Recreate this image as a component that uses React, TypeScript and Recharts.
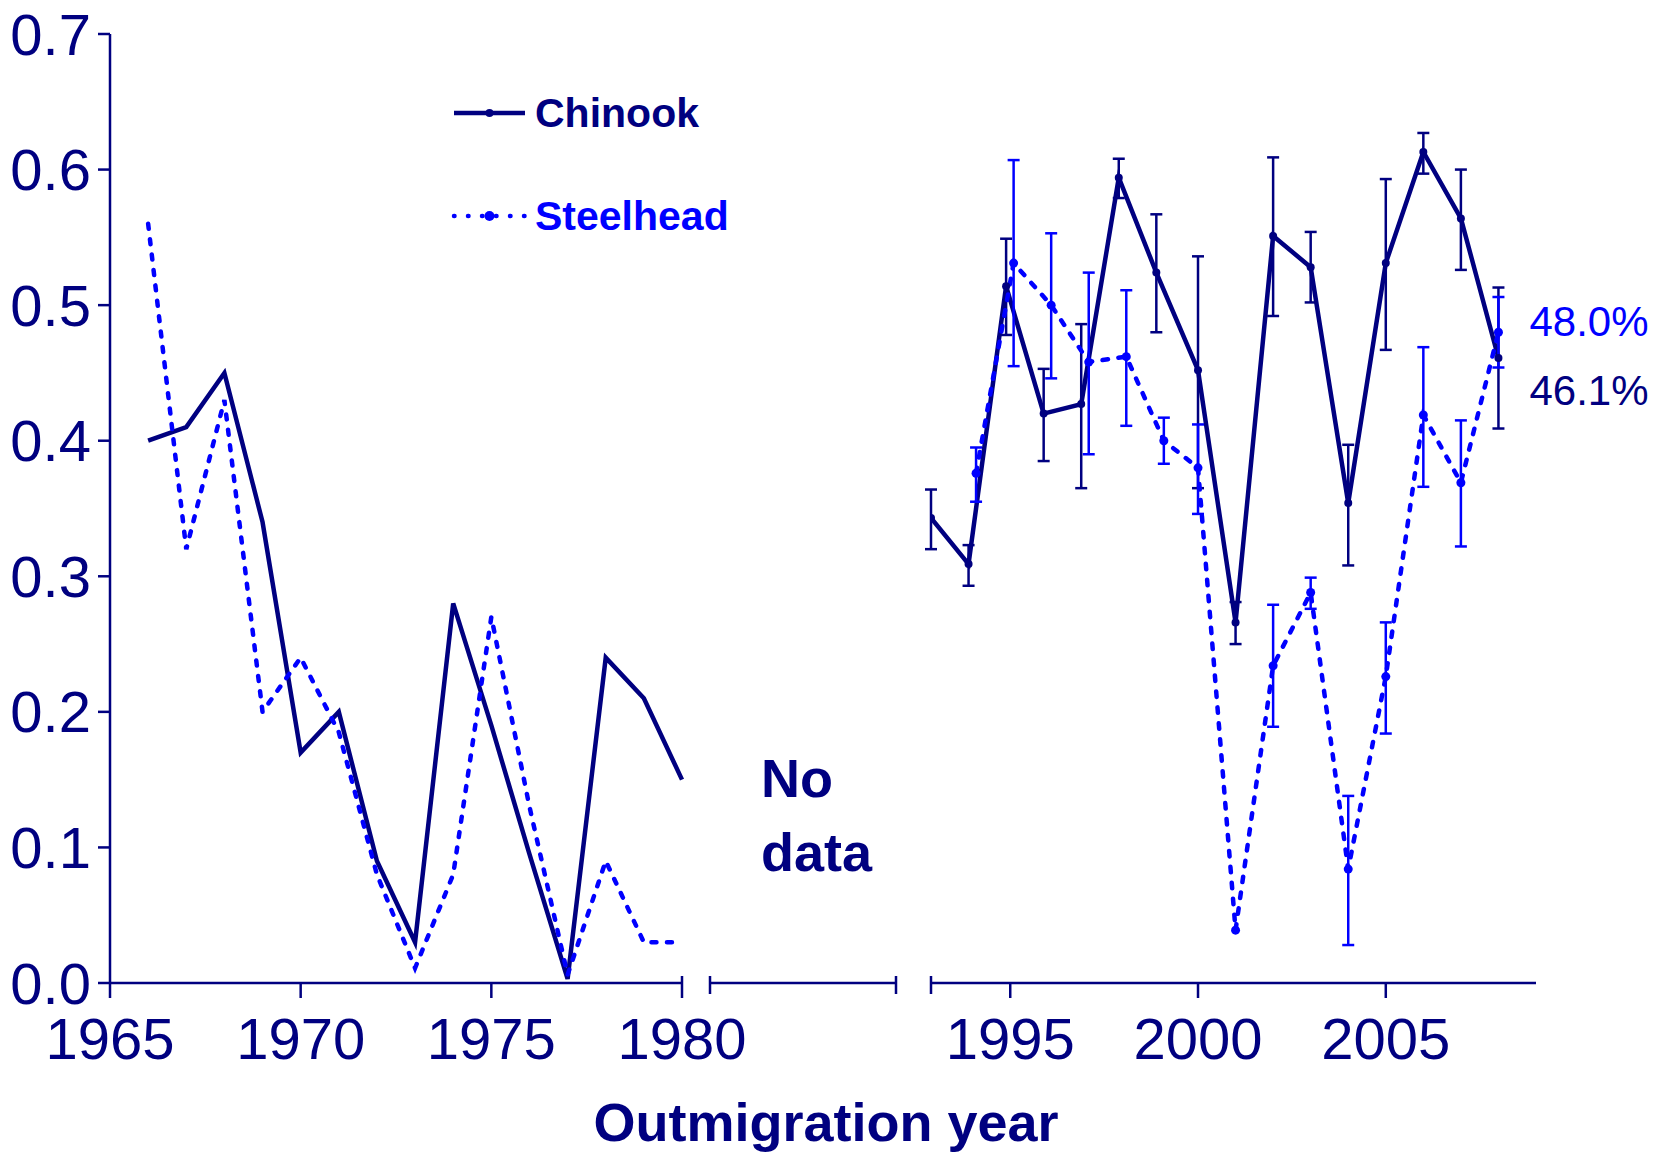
import React from 'react';
import { LineChart, Line, XAxis, YAxis, ErrorBar, Legend } from 'recharts';

const NAVY = '#000080';
const BLUE = '#0000FF';
const FONT = "'Liberation Sans', Arial, Helvetica, sans-serif";

// ---------- data ----------
const earlyYears = [1966, 1967, 1968, 1969, 1970, 1971, 1972, 1973, 1974, 1975, 1976, 1977, 1978, 1979, 1980];
const chinookEarly = [0.40, 0.41, 0.45, 0.34, 0.17, 0.20, 0.09, 0.03, 0.28, 0.19, 0.095, 0.003, 0.24, 0.21, 0.15];
const steelheadEarly = [0.56, 0.32, 0.43, 0.20, 0.24, 0.185, 0.08, 0.011, 0.08, 0.27, 0.13, 0.006, 0.09, 0.03, 0.03];

const chinookYears = [1993, 1994, 1995, 1996, 1997, 1998, 1999, 2000, 2001, 2002, 2003, 2004, 2005, 2006, 2007, 2008];
const chinookSurvival = [0.343, 0.309, 0.514, 0.420, 0.427, 0.594, 0.524, 0.452, 0.266, 0.551, 0.528, 0.354, 0.531, 0.613, 0.564, 0.461];
const chinookLower = [0.320, 0.293, 0.478, 0.385, 0.365, 0.579, 0.480, 0.365, 0.250, 0.492, 0.502, 0.308, 0.467, 0.597, 0.526, 0.409];
const chinookUpper = [0.364, 0.323, 0.549, 0.453, 0.486, 0.608, 0.567, 0.536, 0.281, 0.609, 0.554, 0.397, 0.593, 0.627, 0.600, 0.513];

const steelheadYears = [1994, 1995, 1996, 1997, 1998, 1999, 2000, 2001, 2002, 2003, 2004, 2005, 2006, 2007, 2008];
const steelheadSurvival = [0.376, 0.531, 0.500, 0.458, 0.462, 0.400, 0.380, 0.039, 0.234, 0.288, 0.084, 0.226, 0.419, 0.369, 0.480];
const steelheadLower: (number | null)[] = [0.355, 0.455, 0.446, 0.390, 0.411, 0.383, 0.346, null, 0.189, 0.276, 0.028, 0.184, 0.366, 0.322, 0.454];
const steelheadUpper: (number | null)[] = [0.395, 0.607, 0.553, 0.524, 0.511, 0.417, 0.412, null, 0.279, 0.299, 0.138, 0.266, 0.469, 0.415, 0.506];

const yTicks = [0, 0.1, 0.2, 0.3, 0.4, 0.5, 0.6, 0.7];
const earlyTicks = [1965, 1970, 1975, 1980];
const recentTicks = [1995, 2000, 2005];

// small horizontal dodge used in the original for the 1990s points
const CHINOOK_DODGE = -0.11;
const STEELHEAD_DODGE = 0.09;
const DODGE_BEFORE = 2000;

const EARLY_DOMAIN: [number, number] = [1965, 1980];
const RECENT_DOMAIN: [number, number] = [1993 + CHINOOK_DODGE, 2009];
const Y_DOMAIN: [number, number] = [0, 0.7];

// ---------- derived tables ----------
const earlyData = earlyYears.map((year, i) => ({ year, chinook: chinookEarly[i], steelhead: steelheadEarly[i] }));

const chinookRecent = chinookYears.map((year, i) => ({
  x: year < DODGE_BEFORE ? year + CHINOOK_DODGE : year,
  v: chinookSurvival[i],
  err: [chinookSurvival[i] - chinookLower[i], chinookUpper[i] - chinookSurvival[i]],
}));

const steelheadRecent = steelheadYears.map((year, i) => {
  const lo = steelheadLower[i];
  const hi = steelheadUpper[i];
  return {
    x: year < DODGE_BEFORE ? year + STEELHEAD_DODGE : year,
    v: steelheadSurvival[i],
    err: lo == null || hi == null ? null : [steelheadSurvival[i] - lo, hi - steelheadSurvival[i]],
  };
});

// ---------- layout ----------
const CHART_H = 1160;
const PLOT_TOP = 34;
const PLOT_BOTTOM = 983;
const XAXIS_H = 80;
const MARGIN_BOTTOM = CHART_H - PLOT_BOTTOM - XAXIS_H;
const X_TICK_SIZE = 15;
const X_TICK_MARGIN = 20;
const BREAK_UP = 7;

function makeXTick(breakValues: number[], labelValues: number[], breakDown: number) {
  return (props: any) => {
    const { x, y, payload } = props;
    const value = payload ? payload.value : 0;
    const axisY = y - X_TICK_SIZE - X_TICK_MARGIN;
    const isBreak = breakValues.some((b) => Math.abs(b - value) < 1e-6);
    const showLabel = labelValues.some((b) => Math.abs(b - value) < 1e-6);
    return (
      <g>
        <line
          x1={x}
          x2={x}
          y1={isBreak ? axisY - BREAK_UP : axisY}
          y2={axisY + (isBreak ? breakDown : X_TICK_SIZE)}
          stroke={NAVY}
          strokeWidth={2.5}
        />
        {showLabel && (
          <text x={x} y={y} dy="0.71em" textAnchor="middle" fill={NAVY} fontSize={58} fontFamily={FONT}>
            {value}
          </text>
        )}
      </g>
    );
  };
}

function makeEndLabel(color: string, count: number, dx: number, dy: number) {
  return (props: any) => {
    const { x, y, value, index } = props;
    if (index !== count - 1 || x == null || y == null) return <g />;
    return (
      <text x={x + dx} y={y + dy} fill={color} fontSize={42} fontFamily={FONT}>
        {`${(Number(value) * 100).toFixed(1)}%`}
      </text>
    );
  };
}

const legendStyles: Record<string, { dash?: string; r: number }> = {
  chinook: { r: 4 },
  steelhead: { dash: '0.5 13.5', r: 5 },
};

function renderLegend(props: any) {
  const payload = props.payload || [];
  return (
    <div>
      {payload.map((entry: any, i: number) => {
        const st = legendStyles[entry.dataKey] || { r: 4 };
        return (
          <div
            key={i}
            style={{ display: 'flex', alignItems: 'center', height: 50, marginBottom: i === payload.length - 1 ? 0 : 53 }}
          >
            <svg width={71} height={50} style={{ overflow: 'visible' }}>
              <line
                x1={0}
                x2={71}
                y1={25}
                y2={25}
                stroke={entry.color}
                strokeWidth={4.5}
                strokeDasharray={st.dash}
                strokeLinecap={st.dash ? 'round' : 'butt'}
              />
              <circle cx={35.5} cy={25} r={st.r} fill={entry.color} />
            </svg>
            <span
              style={{
                marginLeft: 10,
                fontSize: 41,
                fontWeight: 'bold',
                color: entry.color,
                lineHeight: '50px',
                fontFamily: FONT,
                whiteSpace: 'nowrap',
              }}
            >
              {entry.value}
            </span>
          </div>
        );
      })}
    </div>
  );
}

const axisLineStyle = { stroke: NAVY, strokeWidth: 2.5 };

export default function App() {
  return (
    <div
      style={{
        position: 'absolute',
        left: 0,
        top: 0,
        width: 1662,
        height: 1160,
        background: '#fff',
        fontFamily: FONT,
        overflow: 'hidden',
      }}
    >
      {/* early period */}
      <div style={{ position: 'absolute', left: 0, top: 0 }}>
        <LineChart
          width={760}
          height={CHART_H}
          data={earlyData}
          margin={{ top: PLOT_TOP, right: 78, bottom: MARGIN_BOTTOM, left: 0 }}
        >
          <XAxis
            dataKey="year"
            type="number"
            domain={EARLY_DOMAIN}
            ticks={earlyTicks}
            interval={0}
            height={XAXIS_H}
            tickSize={X_TICK_SIZE}
            tickMargin={X_TICK_MARGIN}
            tickLine={false}
            axisLine={axisLineStyle}
            tick={makeXTick([1980], earlyTicks, X_TICK_SIZE)}
          />
          <YAxis
            width={110}
            domain={Y_DOMAIN}
            ticks={yTicks}
            interval={0}
            tickSize={12}
            tickMargin={7}
            tickFormatter={(v: number) => v.toFixed(1)}
            tick={{ fill: NAVY, fontSize: 58, fontFamily: FONT }}
            axisLine={axisLineStyle}
            tickLine={axisLineStyle}
          />
          <Legend
            layout="vertical"
            align="center"
            verticalAlign="middle"
            wrapperStyle={{ left: 454, top: 88, width: 300 }}
            content={renderLegend}
          />
          <Line
            dataKey="chinook"
            name="Chinook"
            type="linear"
            stroke={NAVY}
            strokeWidth={4.5}
            dot={false}
            activeDot={false}
            isAnimationActive={false}
          />
          <Line
            dataKey="steelhead"
            name="Steelhead"
            type="linear"
            stroke={BLUE}
            strokeWidth={4.5}
            strokeDasharray="5 10.5"
            strokeLinecap="round"
            dot={false}
            activeDot={false}
            isAnimationActive={false}
          />
        </LineChart>
      </div>

      {/* gap segment */}
      <div style={{ position: 'absolute', left: 700, top: 0 }}>
        <LineChart
          width={206}
          height={CHART_H}
          data={[{ x: 0 }, { x: 1 }]}
          margin={{ top: PLOT_TOP, right: 10, bottom: MARGIN_BOTTOM, left: 10 }}
        >
          <XAxis
            dataKey="x"
            type="number"
            domain={[0, 1]}
            ticks={[0, 1]}
            interval={0}
            height={XAXIS_H}
            tickSize={X_TICK_SIZE}
            tickMargin={X_TICK_MARGIN}
            tickLine={false}
            axisLine={axisLineStyle}
            tick={makeXTick([0, 1], [], 11)}
          />
          <YAxis hide domain={Y_DOMAIN} />
        </LineChart>
      </div>

      {/* recent period */}
      <div style={{ position: 'absolute', left: 921, top: 0 }}>
        <LineChart
          width={741}
          height={CHART_H}
          margin={{ top: PLOT_TOP, right: 126, bottom: MARGIN_BOTTOM, left: 10 }}
        >
          <XAxis
            dataKey="x"
            type="number"
            domain={RECENT_DOMAIN}
            ticks={[RECENT_DOMAIN[0], ...recentTicks]}
            interval={0}
            height={XAXIS_H}
            tickSize={X_TICK_SIZE}
            tickMargin={X_TICK_MARGIN}
            tickLine={false}
            axisLine={axisLineStyle}
            tick={makeXTick([RECENT_DOMAIN[0]], recentTicks, 11)}
            allowDataOverflow
          />
          <YAxis hide domain={Y_DOMAIN} />
          <Line
            data={chinookRecent}
            dataKey="v"
            name="Chinook"
            type="linear"
            stroke={NAVY}
            strokeWidth={4.5}
            dot={{ r: 4, fill: NAVY, stroke: 'none' }}
            activeDot={false}
            isAnimationActive={false}
            label={makeEndLabel(NAVY, chinookRecent.length, 31, 47)}
          >
            <ErrorBar dataKey="err" direction="y" width={6} stroke={NAVY} strokeWidth={2.5} isAnimationActive={false} />
          </Line>
          <Line
            data={steelheadRecent}
            dataKey="v"
            name="Steelhead"
            type="linear"
            stroke={BLUE}
            strokeWidth={4.5}
            strokeDasharray="5.5 10.5"
            strokeLinecap="round"
            dot={{ r: 4.5, fill: BLUE, stroke: 'none' }}
            activeDot={false}
            isAnimationActive={false}
            label={makeEndLabel(BLUE, steelheadRecent.length, 31, 4)}
          >
            <ErrorBar dataKey="err" direction="y" width={6} stroke={BLUE} strokeWidth={2.5} isAnimationActive={false} />
          </Line>
        </LineChart>
      </div>

      <div
        style={{
          position: 'absolute',
          left: 761,
          top: 741,
          fontSize: 54,
          fontWeight: 'bold',
          lineHeight: '74px',
          color: NAVY,
          whiteSpace: 'nowrap',
        }}
      >
        No
        <br />
        data
      </div>

      <div
        style={{
          position: 'absolute',
          left: 0,
          top: 1095,
          width: 1652,
          textAlign: 'center',
          fontSize: 54,
          fontWeight: 'bold',
          lineHeight: '54px',
          color: NAVY,
          whiteSpace: 'nowrap',
        }}
      >
        Outmigration year
      </div>
    </div>
  );
}
